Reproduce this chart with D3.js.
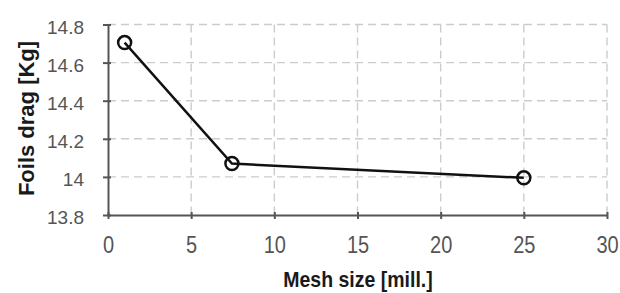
<!DOCTYPE html>
<html>
<head>
<meta charset="utf-8">
<script src="https://cdn.jsdelivr.net/npm/d3@7"></script>
<style>
  body { margin: 0; background: #fff; }
  text { font-family: "Liberation Sans", Arial, sans-serif; }
</style>
</head>
<body>
<svg id="chart" width="620" height="293"></svg>
<script>
// mesh sizes (millions of cells) and resulting drag
var meshSize = [1, 7.45, 25];
var foilsDrag = [14.705, 14.07, 13.995];
var xTicks = [0, 5, 10, 15, 20, 25, 30];
var yTicks = [13.8, 14, 14.2, 14.4, 14.6, 14.8];

var svg = d3.select("#chart");
var mLeft = 108, mRight = 607, mTop = 24.5, mBottom = 215;

var x = d3.scaleLinear().domain([0, 30]).range([mLeft, mRight]);
var y = d3.scaleLinear().domain([13.8, 14.8]).range([mBottom, mTop]);

// grid
var grid = svg.append("g").attr("stroke", "#cccccc").attr("stroke-width", 1.4).attr("stroke-dasharray", "8,5");
grid.selectAll("line.h").data(yTicks.slice(1)).enter().append("line")
    .attr("x1", mLeft).attr("x2", mRight)
    .attr("y1", function(d){ return y(d); }).attr("y2", function(d){ return y(d); });
grid.selectAll("line.v").data(xTicks.slice(1)).enter().append("line")
    .attr("y1", mTop).attr("y2", mBottom)
    .attr("x1", function(d){ return x(d); }).attr("x2", function(d){ return x(d); });

// axes
var xAxis = svg.append("g").attr("transform", "translate(0," + mBottom + ")")
    .call(d3.axisBottom(x).tickValues(xTicks).tickSize(5).tickSizeOuter(0).tickFormat(d3.format("d")));
var yAxis = svg.append("g").attr("transform", "translate(" + mLeft + ",0)")
    .call(d3.axisLeft(y).tickValues(yTicks).tickSize(5).tickSizeOuter(0).tickPadding(19)
      .tickFormat(function(d){ return String(+d.toFixed(1)); }));

[xAxis, yAxis].forEach(function(a){
  a.attr("font-family", null).attr("font-size", null);
  a.select(".domain").attr("stroke", "#555").attr("stroke-width", 2);
  a.selectAll(".tick line").attr("stroke", "#555").attr("stroke-width", 2);
  a.selectAll(".tick text").attr("fill", "#555");
});
xAxis.selectAll(".tick line").attr("y1", -3).attr("y2", 4);
yAxis.selectAll(".tick line").attr("x1", 3).attr("x2", -5);
xAxis.selectAll(".tick text").attr("y", 0).attr("dy", 0)
    .attr("transform", "translate(0,37.5) scale(1,1.15)").style("font-size", "20px");
yAxis.selectAll(".tick text").attr("dy", "0.45em").style("font-size", "19px");

// line
var line = d3.line().x(function(d, i){ return x(meshSize[i]); }).y(function(d){ return y(d); });
svg.append("path").datum(foilsDrag).attr("d", line)
   .attr("fill", "none").attr("stroke", "#111").attr("stroke-width", 2.5);

svg.selectAll("circle.pt").data(foilsDrag).enter().append("circle")
   .attr("cx", function(d, i){ return x(meshSize[i]); })
   .attr("cy", function(d){ return y(d); })
   .attr("r", 6.5).attr("fill", "none").attr("stroke", "#111").attr("stroke-width", 2.5);

// titles
svg.append("text").attr("transform", "translate(358,286.5) scale(1,1.15)").attr("text-anchor", "middle")
   .style("font-size", "19.5px").style("font-weight", "bold").attr("fill", "#1a1a1a")
   .text("Mesh size [mill.]");
svg.append("text").attr("transform", "translate(33.5,118.5) rotate(-90)").attr("text-anchor", "middle")
   .style("font-size", "22px").style("font-weight", "bold").attr("fill", "#1a1a1a")
   .text("Foils drag [Kg]");
</script>
</body>
</html>
